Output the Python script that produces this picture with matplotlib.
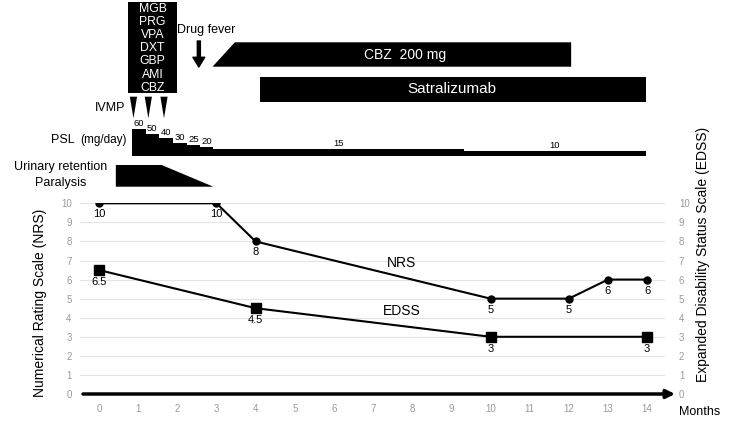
import matplotlib
matplotlib.use('Agg')
import matplotlib.pyplot as plt
from matplotlib.patches import Polygon, Rectangle

plt.rcParams['font.family'] = ['Liberation Sans', 'DejaVu Sans']

# --------------------------------------------------------------------------------------
# Data

nrs_months  = [0, 3, 4, 10, 12, 13, 14]
nrs_values  = [10, 10, 8, 5, 5, 6, 6]
edss_months = [0, 4, 10, 14]
edss_values = [6.5, 4.5, 3, 3]

ivmp_months = [0.88, 1.26, 1.66]

psl_start = [0.85, 1.19, 1.53, 1.88, 2.24, 2.58, 2.92, 9.32]
psl_dose  = [60, 50, 40, 30, 25, 20, 15, 10]
psl_end   = 13.97

drugs      = ['MGB', 'PRG', 'VPA', 'DXT', 'GBP', 'AMI', 'CBZ']
drugs_span = [0.75, 1.98]

fever_month = 2.55

cbz_taper = [2.90, 3.47]
cbz_end   = 12.06
satra_span = [4.11, 13.97]

paralysis_months = [0.43, 1.60, 2.92]

x_ticks = list(range(0, 15))
y_ticks = list(range(0, 11))

# --------------------------------------------------------------------------------------
# Layout (pixels of a 750x422 figure)

W, H   = 750, 422
px0    = 99       # pixel of month 0
pxm    = 39.15    # pixels per month
axl, axr = 80, 665
axb, axt = 394, 203.3

def to_month(px):
    return (px - px0) / pxm

fig = plt.figure(figsize=(7.5, 4.22), dpi=100)

ax = fig.add_axes([axl / W, (H - axb) / H, (axr - axl) / W, (axb - axt) / H])
ax.set_xlim(to_month(axl), to_month(axr))
ax.set_ylim(0, 10)

grey = '#9a9a9a'
ax.set_yticks(y_ticks)
ax.set_yticklabels([str(v) for v in y_ticks], color=grey, fontsize=7)
ax.set_xticks(x_ticks)
ax.set_xticklabels([str(v) for v in x_ticks], color=grey, fontsize=7)
ax.tick_params(axis='both', length=0)
ax.tick_params(axis='y', pad=6)
ax.tick_params(axis='x', pad=7)
for s in ax.spines.values():
    s.set_visible(False)
ax.grid(True, axis='y', color='#e4e4e4', linewidth=0.8)
ax.set_axisbelow(True)

ax2 = ax.twinx()
ax2.set_ylim(0, 10)
ax2.set_yticks(y_ticks)
ax2.set_yticklabels([str(v) for v in y_ticks], color=grey, fontsize=7)
ax2.tick_params(axis='y', length=0, pad=10)
for s in ax2.spines.values():
    s.set_visible(False)

# x axis arrow
ax.annotate('', xy=(to_month(675), 0), xytext=(to_month(83), 0),
            arrowprops=dict(arrowstyle='-|>,head_length=0.5,head_width=0.25',
                            color='black', lw=2.5, shrinkA=0, shrinkB=0),
            annotation_clip=False)

# series
ax.plot(nrs_months, nrs_values, color='black', lw=1.5, marker='o', ms=5, zorder=3)
ax.plot(edss_months, edss_values, color='black', lw=1.5, marker='s', ms=6.5, zorder=3)

for x, y in zip(nrs_months, nrs_values):
    ax.annotate(str(y), (x, y), xytext=(0, -11), textcoords='offset pixels',
                ha='center', va='center', fontsize=8)
for x, y in zip(edss_months, edss_values):
    ax.annotate(f'{y:g}', (x, y), xytext=(0, -12), textcoords='offset pixels',
                ha='center', va='center', fontsize=8)

ax.text(7.73, 6.85, 'NRS', ha='center', va='center', fontsize=10)
ax.text(7.74, 4.37, 'EDSS', ha='center', va='center', fontsize=10)

# --------------------------------------------------------------------------------------
# Overlay axes: x in months, y in pixels

top = fig.add_axes([0, 0, 1, 1])
top.set_xlim(to_month(0), to_month(W))
top.set_ylim(H, 0)
top.axis('off')
top.patch.set_alpha(0)

fig.text(40 / W, 1 - 303 / H, 'Numerical Rating Scale (NRS)', rotation=90,
         ha='center', va='center', fontsize=10)
fig.text(703 / W, 1 - 254 / H, 'Expanded Disability Status Scale (EDSS)', rotation=90,
         ha='center', va='center', fontsize=10)
fig.text(700 / W, 1 - 412 / H, 'Months', ha='center', va='center', fontsize=9)

# drug box
top.add_patch(Rectangle((drugs_span[0], 1.7), drugs_span[1] - drugs_span[0], 91.3,
                        color='black', lw=0))
xc = (drugs_span[0] + drugs_span[1]) / 2
for i, d in enumerate(drugs):
    top.text(xc, 9 + i * 13.1, d, color='white', ha='center', va='center', fontsize=8.8)

# drug fever
top.text(to_month(206), 30.5, 'Drug fever', ha='center', va='center', fontsize=9)
top.annotate('', xy=(fever_month, 67), xytext=(fever_month, 41),
             arrowprops=dict(facecolor='black', edgecolor='black', width=2.2,
                             headwidth=8.5, headlength=7, shrink=0))

# CBZ bar
top.add_patch(Polygon([(cbz_taper[0], 66.7), (cbz_taper[1], 42.3), (cbz_end, 42.3),
                       (cbz_end, 66.7)], closed=True, color='black', lw=0))
top.text(to_month(405), 55, 'CBZ  200 mg', color='white', ha='center', va='center',
         fontsize=10)

# Satralizumab bar
top.add_patch(Rectangle((satra_span[0], 76.7), satra_span[1] - satra_span[0], 25,
                        color='black', lw=0))
top.text(to_month(452), 89.3, 'Satralizumab', color='white', ha='center', va='center',
         fontsize=11)

# IVMP
top.text(to_month(125), 108, 'IVMP', ha='right', va='center', fontsize=9)
hw = 3.6 / pxm
for m in ivmp_months:
    top.add_patch(Polygon([(m - hw, 96.7), (m + hw, 96.7), (m, 118.3)], closed=True,
                          color='black', lw=0))

# PSL steps
top.text(to_month(75), 140, 'PSL', ha='right', va='center', fontsize=9)
top.text(to_month(127), 140.5, '(mg/day)', ha='right', va='center', fontsize=8.5)
base = 156.3
ends = psl_start[1:] + [psl_end]
for s, e, d in zip(psl_start, ends, psl_dose):
    h = d * 0.44 + 0.5
    top.add_patch(Rectangle((s, base - h), e - s, h, color='black', lw=0))
    top.text((s + e) / 2, base - h - 5.5, str(d), ha='center', va='center', fontsize=6.8)

# Urinary retention / paralysis
top.text(to_month(61), 167, 'Urinary retention', ha='center', va='center', fontsize=9)
top.text(to_month(61), 183, 'Paralysis', ha='center', va='center', fontsize=9)
p0, p1, p2 = paralysis_months
top.add_patch(Polygon([(p0, 165), (p1, 165), (p2, 186.7), (p0, 186.7)], closed=True,
                      color='black', lw=0))

fig.savefig('out.png', dpi=100)
